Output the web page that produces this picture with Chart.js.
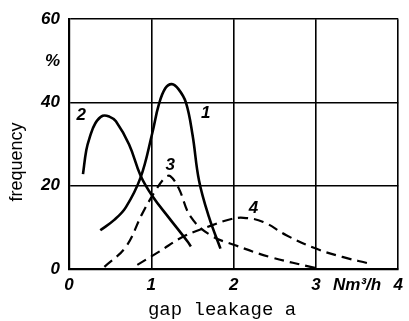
<!DOCTYPE html>
<html>
<head>
<meta charset="utf-8">
<script src="https://cdn.jsdelivr.net/npm/chart.js@4"></script>
<style>
  html, body { margin: 0; padding: 0; background: #fff; }
  #wrap { width: 409px; height: 321px; }
</style>
</head>
<body>
<div id="wrap"><canvas id="chart" width="409" height="321"></canvas></div>
<script>
// values (x in Nm3/h, y in %)
const curve1X = [0.38, 0.55, 0.69, 0.87, 1.01, 1.09, 1.17, 1.25, 1.33, 1.42, 1.50, 1.58, 1.70, 1.84];
const curve1Y = [9.3, 11.8, 14.8, 22.0, 32.5, 39.4, 43.4, 44.4, 43.2, 40.0, 32.3, 21.2, 12.5, 4.9];

const curve2X = [0.17, 0.21, 0.25, 0.32, 0.41, 0.49, 0.57, 0.73, 0.87, 1.01, 1.21, 1.44, 1.48];
const curve2Y = [22.8, 28.5, 31.5, 35.0, 36.8, 36.6, 35.5, 29.9, 22.4, 17.6, 12.4, 6.6, 5.4];

const curve3X = [0.43, 0.69, 0.89, 1.05, 1.17, 1.23, 1.33, 1.48, 1.72, 2.02, 2.44, 3.0];
const curve3Y = [0.5, 5.3, 13.3, 18.8, 22.0, 22.3, 19.5, 12.5, 8.1, 5.7, 2.9, 0.2];

const curve4X = [0.83, 1.09, 1.39, 1.71, 1.95, 2.12, 2.36, 2.64, 3.0, 3.32, 3.63];
const curve4Y = [1.0, 4.1, 7.8, 10.3, 11.9, 12.3, 11.3, 8.1, 4.9, 2.9, 1.4];

const curveNames = ['1', '2', '3', '4'];
const curveLabelX = [1.66, 0.15, 1.23, 2.24];
const curveLabelY = [37.4, 37.0, 25.0, 14.5];

const xTickValues = [0, 1, 2, 3, 3.5, 4];
const xTickLabels = ['0', '1', '2', '3', 'Nm³/h', '4'];
const yTickValues = [0, 20, 40, 50, 60];
const yTickLabels = ['0', '20', '40', '%', '60'];

const xTitle = 'gap leakage a';
const yTitle = 'frequency';

const toPoints = (xs, ys) => xs.map((x, i) => ({ x: x, y: ys[i] }));

const tickFont = { family: 'Liberation Sans', size: 17, style: 'italic', weight: 'bold' };

function makeSet(xs, ys, dashed) {
  return {
    data: toPoints(xs, ys),
    showLine: true,
    borderColor: '#000',
    borderWidth: dashed ? 2.2 : 2.6,
    borderDash: dashed ? [10, 6] : [],
    pointRadius: 0,
    tension: 0.4,
    fill: false
  };
}

const extras = {
  id: 'extras',
  afterDatasetsDraw(chart) {
    const ctx = chart.ctx;
    const xs = chart.scales.x, ys = chart.scales.y;
    ctx.save();
    ctx.fillStyle = '#000';
    ctx.font = 'italic bold 17px "Liberation Sans"';
    ctx.textAlign = 'center';
    ctx.textBaseline = 'middle';
    curveNames.forEach((n, i) => {
      ctx.fillText(n, xs.getPixelForValue(curveLabelX[i]), ys.getPixelForValue(curveLabelY[i]));
    });
    ctx.font = '19px "Liberation Mono"';
    ctx.fillText(xTitle, 222, 310);
    ctx.translate(17, 162);
    ctx.rotate(-Math.PI / 2);
    ctx.font = '18px "Liberation Sans"';
    ctx.fillText(yTitle, 0, 0);
    ctx.restore();
  }
};

new Chart(document.getElementById('chart').getContext('2d'), {
  type: 'scatter',
  data: {
    datasets: [
      makeSet(curve1X, curve1Y, false),
      makeSet(curve2X, curve2Y, false),
      makeSet(curve3X, curve3Y, true),
      makeSet(curve4X, curve4Y, true)
    ]
  },
  options: {
    responsive: false,
    animation: false,
    devicePixelRatio: 1,
    layout: { padding: { left: 0, right: 5, top: 17, bottom: 0 } },
    plugins: { legend: { display: false }, tooltip: { enabled: false } },
    scales: {
      x: {
        type: 'linear', min: 0, max: 4,
        afterBuildTicks: s => { s.ticks = xTickValues.map(v => ({ value: v })); },
        afterFit: s => { s.height = 52; },
        ticks: {
          padding: 6,
          color: '#000',
          font: tickFont,
          maxRotation: 0,
          autoSkip: false,
          callback: (v, i) => xTickLabels[i]
        },
        grid: {
          drawTicks: false,
          color: c => (c.tick && c.tick.value === 3.5) ? 'rgba(0,0,0,0)' : '#000',
          lineWidth: 1.6
        },
        border: { color: '#000', width: 2.2 }
      },
      y: {
        type: 'linear', min: 0, max: 60,
        afterBuildTicks: s => { s.ticks = yTickValues.map(v => ({ value: v })); },
        afterFit: s => { s.width = 69; },
        ticks: {
          padding: 9,
          color: '#000',
          font: tickFont,
          autoSkip: false,
          callback: (v, i) => yTickLabels[i]
        },
        grid: {
          drawTicks: false,
          color: c => (c.tick && c.tick.value === 50) ? 'rgba(0,0,0,0)' : '#000',
          lineWidth: 1.6
        },
        border: { color: '#000', width: 2.2 }
      }
    }
  },
  plugins: [extras]
});
</script>
</body>
</html>
